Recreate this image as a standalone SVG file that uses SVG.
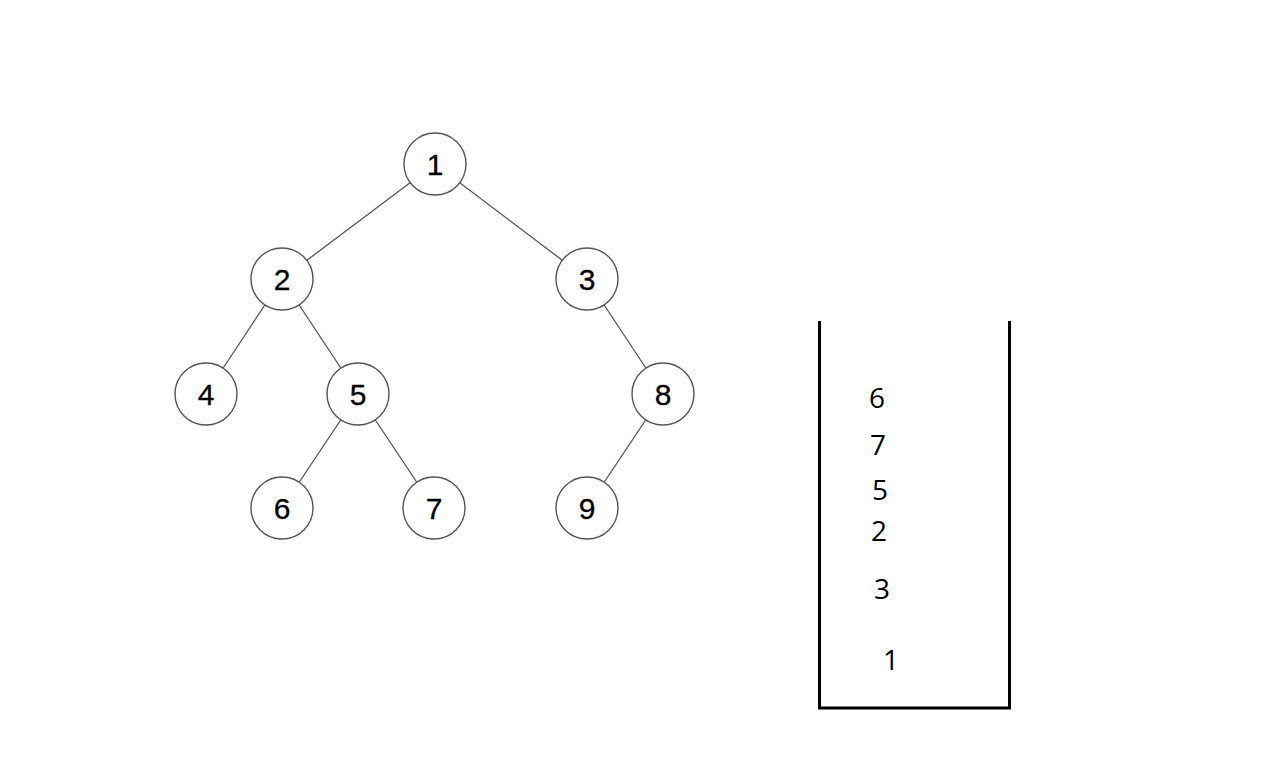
<svg xmlns="http://www.w3.org/2000/svg" width="1274" height="768" viewBox="0 0 1274 768">
<style>
.n circle{fill:#fff;stroke:#555;stroke-width:1.4}
.n text{font-family:"Liberation Sans",Arial,sans-serif;font-size:30px;fill:#000;text-anchor:middle;stroke:#000;stroke-width:0.3}
.e line{stroke:#555;stroke-width:1.3}
.s text{font-family:"Open Sans","Noto Sans",sans-serif;font-size:28px;fill:#000;text-anchor:middle}
</style>
<rect width="1274" height="768" fill="#fff"/>
<g class="e" id="edges">
<line x1="435" y1="164" x2="282" y2="279"/>
<line x1="435" y1="164" x2="587" y2="279"/>
<line x1="282" y1="279" x2="206" y2="394"/>
<line x1="282" y1="279" x2="358" y2="394"/>
<line x1="587" y1="279" x2="663" y2="394"/>
<line x1="358" y1="394" x2="282" y2="508"/>
<line x1="358" y1="394" x2="434" y2="508"/>
<line x1="663" y1="394" x2="587" y2="508"/>
</g>
<g class="n" id="n1"><circle cx="435" cy="164" r="31"/><text x="435" y="175">1</text></g>
<g class="n" id="n2"><circle cx="282" cy="279" r="31"/><text x="282" y="290">2</text></g>
<g class="n" id="n3"><circle cx="587" cy="279" r="31"/><text x="587" y="290">3</text></g>
<g class="n" id="n4"><circle cx="206" cy="394" r="31"/><text x="206" y="405">4</text></g>
<g class="n" id="n5"><circle cx="358" cy="394" r="31"/><text x="358" y="405">5</text></g>
<g class="n" id="n8"><circle cx="663" cy="394" r="31"/><text x="663" y="405">8</text></g>
<g class="n" id="n6"><circle cx="282" cy="508" r="31"/><text x="282" y="519">6</text></g>
<g class="n" id="n7"><circle cx="434" cy="508" r="31"/><text x="434" y="519">7</text></g>
<g class="n" id="n9"><circle cx="587" cy="508" r="31"/><text x="587" y="519">9</text></g>
<g id="stack" class="s">
<path d="M819.5 321 V708 H1009.5 V321" fill="none" stroke="#000" stroke-width="3"/>
<text x="877" y="408">6</text>
<text x="878" y="455">7</text>
<text x="880" y="500">5</text>
<text x="879" y="541">2</text>
<text x="882" y="599">3</text>
<text x="891" y="670">1</text>
</g>
</svg>
